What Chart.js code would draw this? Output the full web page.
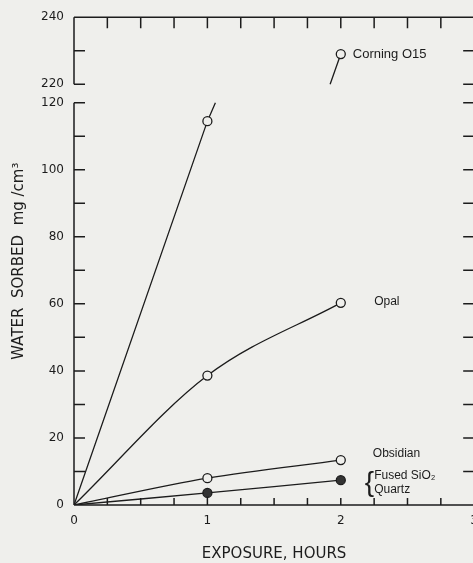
<!DOCTYPE html>
<html>
<head>
<meta charset="utf-8">
<script src="https://cdn.jsdelivr.net/npm/chart.js@4.4.0/dist/chart.umd.min.js"></script>
<style>
  html, body { margin: 0; padding: 0; background: #efefec; overflow: hidden; }
</style>
</head>
<body>
<canvas id="chart" width="487" height="563"></canvas>
<script>
// values (exposure in hours, water sorbed in mg/cm3)
const hours = [0, 1, 2];
const opal = [0, 38.6, 60.3];
const obsidian = [0, 8.0, 13.4];
const fusedSiO2Quartz = [0, 3.6, 7.4];

// Corning 015 leaves the lower panel and comes back in the upper one
const corningLowHours = [0, 1, 1.06];
const corningLow = [0, 114.5, 120];
const corningHighHours = [1.92, 2];
const corningHigh = [220, 229];

const xLabels = [0, 1, 2, 3];
const yLabels = [0, 20, 40, 60, 80, 100, 120, 220, 240];
const yMinor = [0, 10, 20, 30, 40, 50, 60, 70, 80, 90, 100, 110, 120, 220, 230, 240];

// broken axis: 0-120 below, 220-240 above, small gap between
const LOW_MAX = 120;
const HIGH_MIN = 220;
const HIGH_MAX = 240;
const GAP = 5.5;

const ink = '#1c1c1c';
const paper = '#efefec';

function toAxis(v) {
    return v <= LOW_MAX ? v : v - HIGH_MIN + LOW_MAX + GAP;
}
function fromAxis(a) {
    return a <= LOW_MAX + GAP / 2 ? a : a + HIGH_MIN - LOW_MAX - GAP;
}
function pts(xs, ys) {
    return xs.map((x, i) => ({ x: x, y: toAxis(ys[i]) }));
}

// text beside the curves, in data units
const notes = [
    { text: 'Corning O15', x: 2.09, y: 229, size: 13 },
    { text: 'Opal', x: 2.25, y: 60.5, size: 12 },
    { text: 'Obsidian', x: 2.24, y: 15.4, size: 12 },
    { text: 'Fused SiO\u2082', x: 2.25, y: 8.6, size: 12 },
    { text: 'Quartz', x: 2.25, y: 4.6, size: 12 },
    { text: '{', x: 2.18, y: 6.6, size: 28 }
];

// frame with inward ticks, the left/right sides broken
const framePlugin = {
    id: 'frame',
    afterDatasetsDraw(chart) {
        const { ctx, chartArea: a, scales: { x, y } } = chart;
        ctx.save();
        ctx.strokeStyle = ink;
        ctx.lineWidth = 1.5;
        const y0 = y.getPixelForValue(0);
        const yLowTop = y.getPixelForValue(LOW_MAX);
        const yHighBot = y.getPixelForValue(toAxis(HIGH_MIN));
        const yTop = y.getPixelForValue(toAxis(HIGH_MAX));
        ctx.beginPath();
        ctx.moveTo(a.left, y0); ctx.lineTo(a.right, y0);
        ctx.moveTo(a.left, yTop); ctx.lineTo(a.right, yTop);
        [a.left, a.right].forEach(px => {
            ctx.moveTo(px, y0); ctx.lineTo(px, yLowTop);
            ctx.moveTo(px, yHighBot); ctx.lineTo(px, yTop);
        });
        x.ticks.forEach(t => {
            const px = x.getPixelForValue(t.value);
            ctx.moveTo(px, y0); ctx.lineTo(px, y0 - 7);
            ctx.moveTo(px, yTop); ctx.lineTo(px, yTop + 11);
        });
        y.ticks.forEach(t => {
            const py = y.getPixelForValue(t.value);
            ctx.moveTo(a.left, py); ctx.lineTo(a.left + 11, py);
            ctx.moveTo(a.right, py); ctx.lineTo(a.right - 11, py);
        });
        ctx.stroke();

        ctx.fillStyle = ink;
        ctx.textBaseline = 'middle';
        notes.forEach(n => {
            ctx.font = n.size + 'px "Liberation Sans", Arial, sans-serif';
            ctx.fillText(n.text, x.getPixelForValue(n.x), y.getPixelForValue(toAxis(n.y)));
        });
        ctx.restore();
    }
};

const lineStyle = {
    borderColor: ink,
    borderWidth: 1.3,
    pointBorderColor: ink,
    pointBackgroundColor: paper,
    pointBorderWidth: 1.3,
    fill: false
};

const ctx = document.getElementById('chart').getContext('2d');
new Chart(ctx, {
    type: 'line',
    data: {
        datasets: [
            Object.assign({ label: 'Corning 015', data: pts(corningLowHours, corningLow), pointRadius: [0, 4.5, 0] }, lineStyle),
            Object.assign({ label: 'Corning 015 (upper)', data: pts(corningHighHours, corningHigh), pointRadius: [0, 4.5] }, lineStyle),
            Object.assign({ label: 'Opal', data: pts(hours, opal), pointRadius: [0, 4.5, 4.5], cubicInterpolationMode: 'monotone' }, lineStyle),
            Object.assign({ label: 'Obsidian', data: pts(hours, obsidian), pointRadius: [0, 4.5, 4.5], cubicInterpolationMode: 'monotone' }, lineStyle),
            Object.assign({ label: 'Fused SiO2 / Quartz', data: pts(hours, fusedSiO2Quartz), pointRadius: [0, 4.5, 4.5], tension: 0.1 },
                lineStyle, { pointBackgroundColor: '#333' })
        ]
    },
    options: {
        responsive: false,
        animation: false,
        layout: { padding: { top: 15, left: 0, right: 0, bottom: 0 } },
        plugins: { legend: { display: false }, tooltip: { enabled: false } },
        scales: {
            x: {
                type: 'linear',
                min: 0,
                max: 3,
                grid: { display: false, drawTicks: false },
                border: { display: false },
                afterFit: s => { s.height = 58; },
                ticks: {
                    stepSize: 0.25,
                    autoSkip: false,
                    maxRotation: 0,
                    padding: 9,
                    color: ink,
                    font: { family: '"DejaVu Sans", sans-serif', size: 12 },
                    callback: v => xLabels.includes(v) ? String(v) : ''
                },
                title: {
                    display: true,
                    text: 'EXPOSURE, HOURS',
                    color: ink,
                    font: { family: '"DejaVu Sans", sans-serif', size: 15 },
                    padding: { top: 0, bottom: 0 }
                }
            },
            y: {
                type: 'linear',
                min: 0,
                max: toAxis(HIGH_MAX),
                grid: { display: false, drawTicks: false },
                border: { display: false },
                afterFit: s => { s.width = 74; },
                afterBuildTicks: s => { s.ticks = yMinor.map(v => ({ value: toAxis(v) })); },
                ticks: {
                    autoSkip: false,
                    padding: 10,
                    color: ink,
                    font: { family: '"DejaVu Sans", sans-serif', size: 12 },
                    callback: v => {
                        const r = Math.round(fromAxis(v));
                        return yLabels.includes(r) ? String(r) : '';
                    }
                },
                title: {
                    display: true,
                    text: 'WATER  SORBED  mg /cm\u00b3',
                    color: ink,
                    font: { family: '"DejaVu Sans", sans-serif', size: 15 },
                    padding: { top: 10, bottom: 0 }
                }
            }
        }
    },
    plugins: [framePlugin]
});
</script>
</body>
</html>
